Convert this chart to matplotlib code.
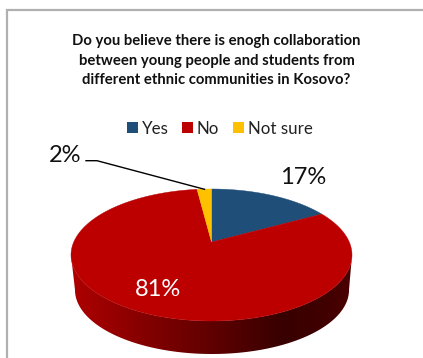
import numpy as np
import matplotlib
matplotlib.use("Agg")
import matplotlib.pyplot as plt
from matplotlib.colors import LinearSegmentedColormap
from matplotlib.patches import Polygon, Rectangle

categories = ["Yes", "No", "Not sure"]
values = [17, 81, 2]
colors = ["#1F4E79", "#BC0000", "#FFC000"]
title_lines = [
    "Do you believe there is enogh collaboration",
    "between young people and students from",
    "different ethnic communities in Kosovo?",
]

plt.rcParams["font.family"] = ["Lato", "DejaVu Sans"]

W, H = 423, 358
fig = plt.figure(figsize=(W / 100, H / 100), dpi=100)
ax = fig.add_axes([0, 0, 1, 1])

# chart frame, running off the right and lower edges
ax.plot([7.3, 7.3, W + 2], [H + 2, 10, 10], color="#B0B0B0", lw=1.6,
        solid_joinstyle="miter", zorder=1)

# ellipses of the tilted disc: centre x, centre y, radius x, radius y
TOP = (211.5, 255.0, 140.5, 66.0)
LOW = (212.0, 290.0, 137.0, 64.0)
TILT = 0.197  # shift of the hub toward the back of the disc


def rim_points(theta):
    """Project clockwise-from-north angles onto the perspective top ellipse."""
    u, v = np.sin(theta), np.cos(theta)
    d = 1 + TILT * v
    x = u * np.sqrt(1 - TILT ** 2) / d
    y = (v + TILT) / d
    return TOP[0] + TOP[2] * x, TOP[1] - TOP[3] * y


# front wall: horizontal shading clipped to the outline of the disc's side
t = np.linspace(np.pi, 2 * np.pi, 241)
outline = np.vstack([
    np.column_stack([TOP[0] + TOP[2] * np.cos(t), TOP[1] - TOP[3] * np.sin(t)]),
    np.column_stack([LOW[0] + LOW[2] * np.cos(t[::-1]), LOW[1] - LOW[3] * np.sin(t[::-1])]),
])
wall_cmap = LinearSegmentedColormap.from_list(
    "wall",
    [(0.0, "#AE0000"), (0.25, "#860000"), (0.5, "#600000"),
     (0.75, "#380000"), (0.9, "#400000"), (1.0, "#4C0000")],
)
wall = Polygon(outline, closed=True, facecolor="none", edgecolor="none",
               transform=ax.transData)
ax.add_patch(wall)
shade = ax.imshow(np.linspace(0, 1, 256)[None, :], cmap=wall_cmap, aspect="auto",
                  extent=(TOP[0] - TOP[2], TOP[0] + TOP[2], LOW[1] + LOW[3], TOP[1]),
                  interpolation="bilinear", zorder=2)
shade.set_clip_path(wall)

# top face slices, clockwise from north
hub = (TOP[0], TOP[1] - TOP[3] * TILT)
edges = np.cumsum([0] + values) / sum(values) * 2 * np.pi
for start, stop, color in zip(edges[:-1], edges[1:], colors):
    th = np.linspace(start, stop, 300)
    rx, ry = rim_points(th)
    verts = np.column_stack([np.r_[hub[0], rx], np.r_[hub[1], ry]])
    ax.add_patch(Polygon(verts, closed=True, facecolor=color, edgecolor=color,
                         lw=0.3, zorder=3))

# title
for line, y in zip(title_lines, [41.5, 61.5, 80.5]):
    ax.text(216.5, y, line, ha="center", va="center", fontsize=10.7,
            fontweight="bold", color="#111111", zorder=5)

# legend
legend_x = [(127, 142), (182, 197), (233, 248)]
for (sx, tx), name, color in zip(legend_x, categories, colors):
    ax.add_patch(Rectangle((sx, 122), 11, 11, facecolor=color, edgecolor="none", zorder=5))
    ax.text(tx, 128.5, name, ha="left", va="center", fontsize=12.2,
            color="#222222", zorder=5)

# value labels
label_style = [
    ((303, 177), "#111111"),
    ((158, 289), "white"),
    ((65, 155), "#111111"),
]
for v, ((lx, ly), c) in zip(values, label_style):
    ax.text(lx, ly, f"{v}%", ha="center", va="center", fontsize=17, color=c, zorder=6)

# leader line for the smallest slice
ax.plot([86, 97, 204.5], [160.7, 160.7, 189.3], color="black", lw=1.0, zorder=6)

ax.set_xlim(0, W)
ax.set_ylim(H, 0)
ax.axis("off")

fig.savefig("out.png", dpi=100, facecolor="white")
